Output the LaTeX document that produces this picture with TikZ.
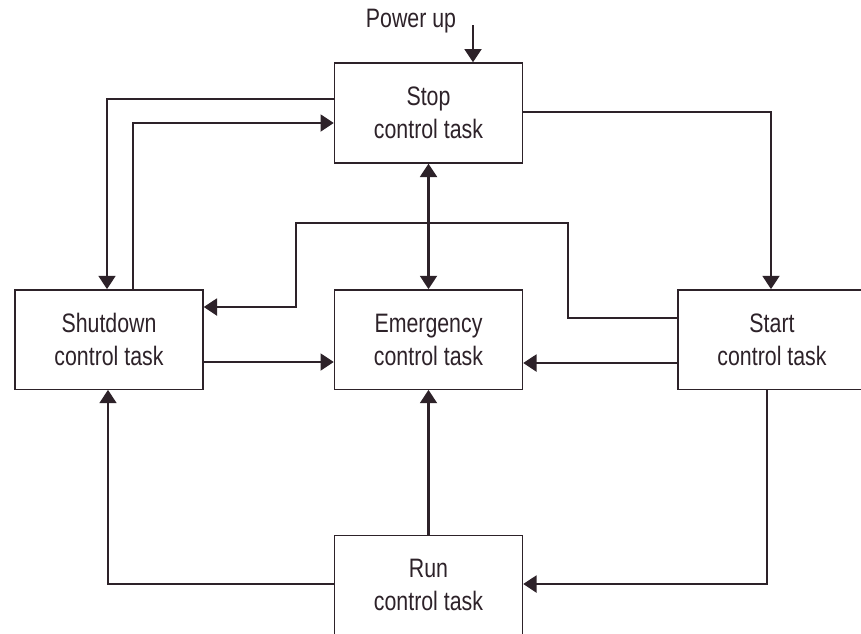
\documentclass[tikz,border=0pt]{standalone}
\usepackage{fontspec}
\setmainfont{Liberation Sans}[FakeStretch=0.8]
\usetikzlibrary{arrows.meta}
\usepackage{xcolor}
\definecolor{inkDark}{HTML}{2D2229}
\tikzset{
  arr/.style={-{Triangle[length=10pt,width=12.5pt]}, line width=2.2pt, draw=inkDark},
  dblarr/.style={{Triangle[length=10pt,width=12.5pt]}-{Triangle[length=10pt,width=12.5pt]}, line width=2.2pt, draw=inkDark},
  task/.style={draw=inkDark, line width=1pt, fill=white, minimum width=141pt,
    minimum height=74.5pt, align=center, text=inkDark,
    font=\fontsize{20}{24.75}\selectfont},
  lbl/.style={text=inkDark, font=\fontsize{20}{24.75}\selectfont}
}

\begin{document}
\begin{tikzpicture}[x=0.75pt,y=-0.75pt]
  \useasboundingbox (0,0) rectangle (861,633);
  \clip (0,0) rectangle (861,633);
  \fill[white] (0,0) rectangle (861,633);

  % task boxes
  \node[task, minimum height=75pt] (stop) at (428.5,113) {Stop\\control task};
  \node[task] (shut) at (109,339.5) {Shutdown\\control task};
  \node[task] (emerg) at (428.5,339.5) {Emergency\\control task};
  \node[task] (start) at (772,339.5) {Start\\control task};
  \node[task] (run) at (428.5,585) {Run\\control task};

  % power up entry
  \coordinate (pwr) at (473,25);
  \node[lbl] (pwrlbl) at (411,21) {Power up};
  \draw[arr] (pwr) -- (pwr |- stop.north);

  % stop <-> shutdown
  \coordinate (sdA) at (107,99);
  \coordinate (sdB) at (133,123);
  \draw[arr] (stop.west |- sdA) -| (shut.north -| sdA);
  \draw[arr] (shut.north -| sdB) |- (stop.west |- sdB);

  % stop -> start, stop <-> emergency
  \coordinate (stA) at (771,112);
  \draw[arr] (stop.east |- stA) -| (start.north -| stA);
  \draw[dblarr] (stop.south) -- (emerg.north);

  % start -> shutdown, around the emergency box
  \coordinate (j0) at (568,318);
  \coordinate (j1) at (568,223);
  \coordinate (j2) at (296,307);
  \draw[arr] (start.west |- j0) -- (j0) -- (j1) -| (j2) -- (shut.east |- j2);

  % into emergency
  \coordinate (eR) at (0,363);
  \coordinate (eL) at (0,362);
  \draw[arr] (start.west |- eR) -- (emerg.east |- eR);
  \draw[arr] (shut.east |- eL) -- (emerg.west |- eL);

  % run connections
  \coordinate (rnA) at (108,584);
  \coordinate (rnB) at (767,584);
  \draw[arr] (run.west |- rnA) -| (shut.south -| rnA);
  \draw[arr] (run.north) -- (emerg.south);
  \draw[arr] (start.south -| rnB) |- (run.east |- rnB);
\end{tikzpicture}
\end{document}
